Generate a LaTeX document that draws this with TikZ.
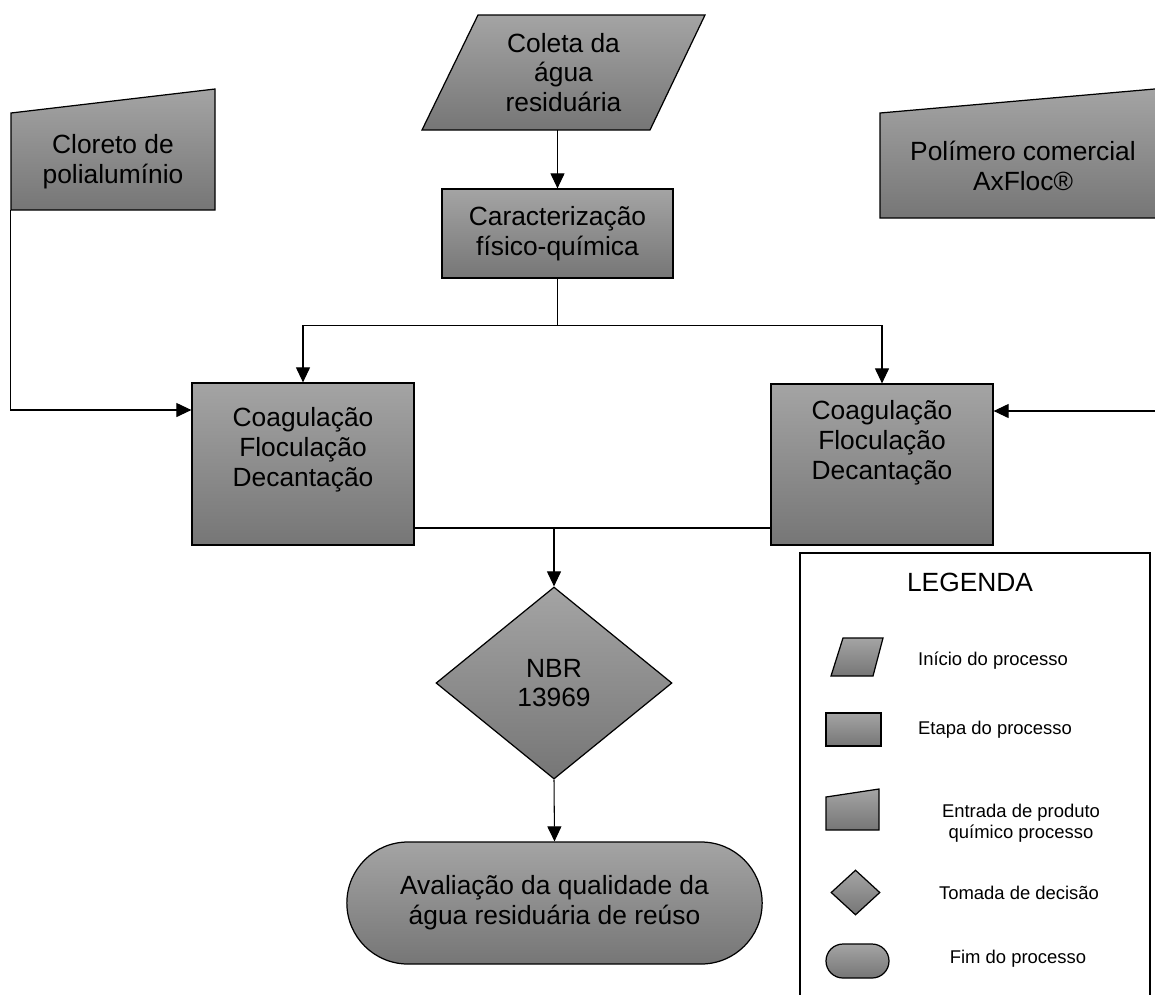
\documentclass[tikz,border=0pt]{standalone}
\usepackage{fontspec}
\setmainfont{Liberation Sans}
\usetikzlibrary{arrows.meta,shapes.geometric,shapes.misc}
\definecolor{cinzaTopo}{RGB}{164,164,164}
\definecolor{cinzaBase}{RGB}{118,118,118}

\begin{document}
\begin{tikzpicture}[
txt/.style={align=center, font=\fontsize{15}{17}\selectfont},
txtleg/.style={align=center, font=\fontsize{10.5}{12}\selectfont},
cinza/.style={draw=black, line width=0.7pt, top color=cinzaTopo, bottom color=cinzaBase},
caixa/.style={cinza, rectangle, minimum width=#1},
vazio/.style={rectangle, inner sep=0pt},
linha/.style={line width=0.6pt},
seta/.style={linha, -{Triangle[length=0.3cm, width=0.28cm]}}
]
\useasboundingbox (0,0) rectangle (23.1,-19.88);

% --- Entradas do processo ---
\draw[cinza] (8.44,-2.6) -- (13.0,-2.6) -- (14.1,-0.3) -- (9.56,-0.3) -- cycle;
\node[vazio, txt, minimum width=4.56cm, minimum height=2.3cm] (coleta) at (11.27,-1.45) {Coleta da\\água\\residuária};

\draw[cinza] (0.22,-4.2) -- (4.3,-4.2) -- (4.3,-1.78) -- (0.22,-2.26) -- cycle;
\node[vazio, txt, minimum width=4.08cm, minimum height=1.94cm] (cloreto) at (2.26,-3.23) {Cloreto de\\polialumínio};

\draw[cinza] (17.6,-4.36) -- (23.32,-4.36) -- (23.32,-1.76) -- (17.6,-2.26) -- cycle;
\node[vazio, txt, minimum width=5.72cm, minimum height=2.1cm] (polimero) at (20.46,-3.31) {Polímero comercial\\AxFloc®};

% --- Etapas ---
\node[caixa=4.62cm, txt, minimum height=1.78cm] (carac) at (11.15,-4.67) {Caracterização\\físico-química};

\node[caixa=4.44cm, minimum height=3.24cm] (coagA) at (6.06,-9.28) {};
\node[txt] at (6.06,-9.0) {Coagulação\\Floculação\\Decantação};

\node[caixa=4.44cm, minimum height=3.22cm] (coagB) at (17.64,-9.29) {};
\node[txt] at (17.64,-8.85) {Coagulação\\Floculação\\Decantação};

\node[cinza, diamond, txt, minimum width=4.72cm, minimum height=3.84cm, inner sep=0pt] (nbr) at (11.08,-13.66) {NBR\\13969};

\node[cinza, rounded rectangle, txt, minimum width=8.54cm, minimum height=2.44cm] (aval) at (11.09,-18.06) {Avaliação da qualidade da\\água residuária de reúso};

% --- Ligações ---
\draw[seta] (carac.north |- coleta.south) -- (carac.north);
\draw[linha] (carac.south) -- ++(0,-0.94) coordinate (divide);
\draw[seta] (divide) -| (coagA.north);
\draw[seta] (divide) -| (coagB.north);

\draw[seta] (cloreto.south west) |- ([yshift=1.08cm]coagA.west);
\coordinate (entradaB) at (23.1,-8.22);
\draw[seta] (entradaB) -- (entradaB -| coagB.east);

\path ([yshift=-1.28cm]coagA.east) coordinate (juntaA);
\draw[linha] (juntaA) -- (juntaA -| coagB.west);
\draw[seta] (juntaA -| nbr.north) -- (nbr.north);
\draw[seta] (nbr.south) -- (aval.north);

% --- Legenda ---
\draw[line width=1.4pt] (16,-20.2) rectangle (23,-11.06);
\node[txt] (legenda) at (19.4,-11.64) {LEGENDA};

\draw[cinza] (16.62,-13.52) -- (17.46,-13.52) -- (17.66,-12.76) -- (16.86,-12.76) -- cycle;
\node[txtleg] (legIni) at (19.86,-13.22) {Início do processo};

\node[caixa=1.1cm, minimum height=0.66cm] (legEtapa) at (17.07,-14.59) {};
\node[txtleg] at (19.9,-14.6) {Etapa do processo};

\draw[cinza] (16.52,-16.6) -- (17.58,-16.6) -- (17.58,-15.78) -- (16.52,-15.94) -- cycle;
\node[txtleg] (legEntrada) at (20.42,-16.47) {Entrada de produto\\químico processo};

\node[cinza, diamond, minimum width=0.98cm, minimum height=0.9cm, inner sep=0pt] (legDecisao) at (17.11,-17.85) {};
\node[txtleg] at (20.38,-17.86) {Tomada de decisão};

\node[cinza, rounded rectangle, minimum width=1.26cm, minimum height=0.68cm, inner sep=0pt] (legFim) at (17.15,-19.22) {};
\node[txtleg] at (20.36,-19.18) {Fim do processo};

\end{tikzpicture}
\end{document}
